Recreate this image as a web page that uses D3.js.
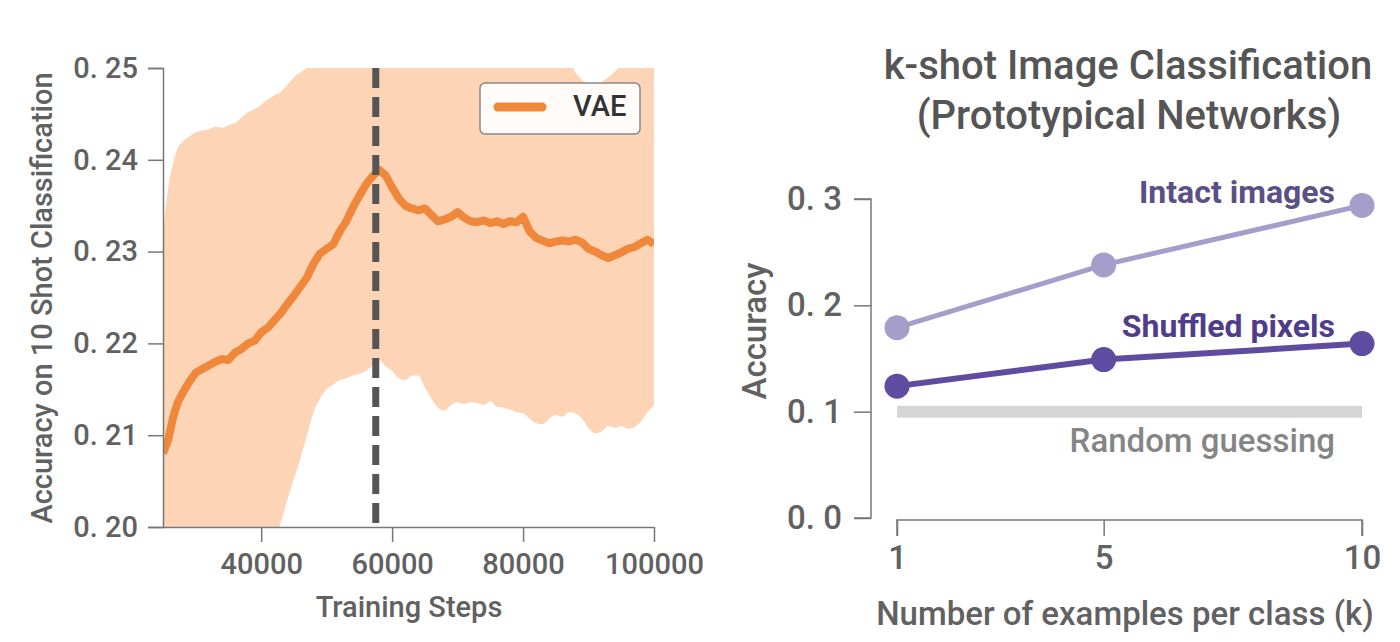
<!DOCTYPE html>
<html>
<head>
<meta charset="utf-8">
<script src="https://cdn.jsdelivr.net/npm/d3@7/dist/d3.min.js"></script>
<style>
  body { margin: 0; background: #fff; }
  svg text { font-family: Roboto, "Noto Sans", sans-serif; }
</style>
</head>
<body>
<div id="chart"></div>
<script>
// ---- left panel: VAE accuracy vs training steps ----
var steps = [25000, 25800, 26500, 27200, 28000, 29000, 30000, 31000, 32000, 33000,
  34000, 35000, 36000, 37000, 38000, 39000, 40000, 41000, 42000, 43000,
  44000, 45000, 46000, 47000, 48000, 49000, 50000, 51000, 52000, 53000,
  54000, 55000, 56000, 57000, 58000, 59000, 60000, 61000, 62000, 63000,
  64000, 65000, 66000, 67000, 68000, 69000, 70000, 71000, 72000, 73000,
  74000, 75000, 76000, 77000, 78000, 79000, 80000, 81000, 82000, 83000,
  84000, 85000, 86000, 87000, 88000, 89000, 90000, 91000, 92000, 93000,
  94000, 95000, 96000, 97000, 98000, 99000, 100000];

var vaeMean = [0.2080, 0.2095, 0.2118, 0.2135, 0.2146, 0.2158, 0.2168, 0.2172, 0.2176, 0.2180,
  0.2183, 0.2182, 0.2190, 0.2194, 0.2200, 0.2203, 0.2212, 0.2217, 0.2225, 0.2233,
  0.2243, 0.2252, 0.2262, 0.2272, 0.2287, 0.2298, 0.2303, 0.2308, 0.2322, 0.2333,
  0.2348, 0.2361, 0.2373, 0.2382, 0.2389, 0.2383, 0.2370, 0.2358, 0.2350, 0.2347,
  0.2345, 0.2347, 0.2340, 0.2333, 0.2335, 0.2338, 0.2343, 0.2337, 0.2333, 0.2332,
  0.2334, 0.2331, 0.2333, 0.2330, 0.2333, 0.2332, 0.2338, 0.2322, 0.2315, 0.2312,
  0.2309, 0.2311, 0.2312, 0.2311, 0.2313, 0.2310, 0.2303, 0.2300, 0.2296, 0.2293,
  0.2296, 0.2299, 0.2303, 0.2305, 0.2309, 0.2313, 0.2308];

var vaeUpper = [0.2320, 0.2370, 0.2395, 0.2412, 0.2420, 0.2425, 0.2430, 0.2432, 0.2433, 0.2436,
  0.2435, 0.2438, 0.2440, 0.2446, 0.2452, 0.2455, 0.2460, 0.2466, 0.2470, 0.2474,
  0.2482, 0.2490, 0.2495, 0.2500, 0.2505, 0.2515, 0.2520, 0.2520, 0.2520, 0.2520,
  0.2520, 0.2520, 0.2520, 0.2520, 0.2520, 0.2520, 0.2520, 0.2520, 0.2520, 0.2520,
  0.2520, 0.2520, 0.2520, 0.2520, 0.2520, 0.2520, 0.2520, 0.2520, 0.2520, 0.2520,
  0.2520, 0.2520, 0.2520, 0.2520, 0.2520, 0.2520, 0.2520, 0.2520, 0.2520, 0.2520,
  0.2520, 0.2520, 0.2515, 0.2508, 0.2495, 0.2487, 0.2482, 0.2480, 0.2484, 0.2490,
  0.2496, 0.2505, 0.2520, 0.2520, 0.2520, 0.2520, 0.2520];

var vaeLower = [0.1850, 0.1855, 0.1860, 0.1865, 0.1870, 0.1875, 0.1880, 0.1885, 0.1890, 0.1895,
  0.1900, 0.1905, 0.1910, 0.1920, 0.1930, 0.1940, 0.1955, 0.1970, 0.1985, 0.2005,
  0.2030, 0.2052, 0.2075, 0.2100, 0.2125, 0.2140, 0.2150, 0.2155, 0.2160, 0.2162,
  0.2165, 0.2167, 0.2170, 0.2176, 0.2182, 0.2175, 0.2170, 0.2162, 0.2160, 0.2165,
  0.2165, 0.2152, 0.2140, 0.2130, 0.2127, 0.2133, 0.2136, 0.2134, 0.2136, 0.2135,
  0.2133, 0.2137, 0.2131, 0.2130, 0.2128, 0.2125, 0.2124, 0.2118, 0.2113, 0.2112,
  0.2118, 0.2122, 0.2120, 0.2125, 0.2124, 0.2118, 0.2108, 0.2102, 0.2104, 0.2110,
  0.2108, 0.2110, 0.2107, 0.2109, 0.2115, 0.2125, 0.2132];

var bestStep = 57500;
var leftYTicks = [0.20, 0.21, 0.22, 0.23, 0.24, 0.25];
var leftXTicks = [40000, 60000, 80000, 100000];

// ---- right panel: k-shot classification ----
var shots = [1, 5, 10];
var intactAcc = [0.179, 0.238, 0.294];
var shuffledAcc = [0.124, 0.149, 0.164];
var randomGuess = 0.1;
var rightYTicks = [0.0, 0.1, 0.2, 0.3];

var svg = d3.select("#chart").append("svg").attr("width", 1400).attr("height", 642);

var axisGrey = "#777", textGrey = "#616161";

// ================= left =================
var x = d3.scaleLinear().domain([25000, 100000]).range([163, 654]);
var y = d3.scaleLinear().domain([0.20, 0.25]).range([527, 68]);

var rows = steps.map((s, i) => ({s: s, m: vaeMean[i], lo: vaeLower[i], hi: vaeUpper[i]}));

svg.append("clipPath").attr("id", "plotclip")
  .append("rect").attr("x", x(25000)).attr("y", y(0.25))
  .attr("width", x(100000) - x(25000)).attr("height", y(0.20) - y(0.25));

var plot = svg.append("g").attr("clip-path", "url(#plotclip)");

plot.append("path").datum(rows)
  .attr("fill", "#fdd5b6")
  .attr("d", d3.area().x(d => x(d.s)).y0(d => y(d.lo)).y1(d => y(d.hi)).curve(d3.curveMonotoneX));

plot.append("path").datum(rows)
  .attr("fill", "none")
  .attr("stroke", "#f0883c")
  .attr("stroke-width", 8)
  .attr("stroke-linejoin", "round")
  .attr("d", d3.line().x(d => x(d.s)).y(d => y(d.m)));

svg.append("line")
  .attr("x1", x(bestStep)).attr("x2", x(bestStep))
  .attr("y1", y(0.25)).attr("y2", y(0.20))
  .attr("stroke", "#555").attr("stroke-width", 7)
  .attr("stroke-dasharray", "20,9");

var gy = svg.append("g").attr("transform", "translate(" + x(25000) + ",0)")
  .call(d3.axisLeft(y).tickValues(leftYTicks).tickSize(15).tickPadding(10)
    .tickFormat(d => d3.format(".2f")(d).replace(".", ". ")));
var gx = svg.append("g").attr("transform", "translate(0," + y(0.20) + ")")
  .call(d3.axisBottom(x).tickValues(leftXTicks).tickSize(15).tickPadding(11).tickSizeOuter(0)
    .tickFormat(d3.format("d")));

[gx, gy].forEach(g => {
  g.select(".domain").attr("stroke", axisGrey).attr("stroke-width", 1.5);
  g.selectAll(".tick line").attr("stroke", axisGrey).attr("stroke-width", 1.5);
  g.selectAll(".tick text").attr("fill", textGrey).style("font-size", "29px").style("font-weight", 500);
});

svg.append("text")
  .attr("transform", "translate(52,298) rotate(-90)")
  .attr("text-anchor", "middle")
  .attr("fill", textGrey).style("font-size", "29px").style("font-weight", 500)
  .text("Accuracy on 10 Shot Classification");

svg.append("text")
  .attr("x", 409).attr("y", 617)
  .attr("text-anchor", "middle")
  .attr("fill", textGrey).style("font-size", "29px").style("font-weight", 500)
  .text("Training Steps");

// legend
var lg = svg.append("g");
lg.append("rect").attr("x", 480).attr("y", 83).attr("width", 160).attr("height", 51)
  .attr("rx", 5).attr("fill", "#fff").attr("fill-opacity", 0.9)
  .attr("stroke", "#888").attr("stroke-width", 1.5);
lg.append("line").attr("x1", 498).attr("x2", 542).attr("y1", 107).attr("y2", 107)
  .attr("stroke", "#f0883c").attr("stroke-width", 9).attr("stroke-linecap", "round");
lg.append("text").attr("x", 573).attr("y", 116)
  .attr("fill", "#333").style("font-size", "29px").style("font-weight", 500)
  .text("VAE");

// ================= right =================
var x2 = d3.scaleLinear().domain([1, 10]).range([897, 1362]);
var y2 = d3.scaleLinear().domain([0, 0.3]).range([518, 199]);

svg.append("text").attr("x", 1128).attr("y", 79).attr("text-anchor", "middle")
  .attr("fill", "#555").style("font-size", "40px").style("font-weight", 500)
  .text("k-shot Image Classification");
svg.append("text").attr("x", 1129).attr("y", 129).attr("text-anchor", "middle")
  .attr("fill", "#555").style("font-size", "40px").style("font-weight", 500)
  .text("(Prototypical Networks)");

var gy2 = svg.append("g").attr("transform", "translate(871,0)")
  .call(d3.axisLeft(y2).tickValues(rightYTicks).tickSize(17).tickPadding(12)
    .tickFormat(d => d3.format(".1f")(d).replace(".", ". ")));
var gx2 = svg.append("g").attr("transform", "translate(0,520)")
  .call(d3.axisBottom(x2).tickValues(shots).tickSize(16).tickPadding(10)
    .tickFormat(d3.format("d")));

[gx2, gy2].forEach(g => {
  g.select(".domain").attr("stroke", axisGrey).attr("stroke-width", 1.5);
  g.selectAll(".tick line").attr("stroke", axisGrey).attr("stroke-width", 1.5);
  g.selectAll(".tick text").attr("fill", textGrey).style("font-size", "33px").style("font-weight", 500);
});
gy2.select(".domain").attr("d", "M-17," + y2(0.3) + "H0V" + y2(0) + "H-17");
gx2.select(".domain").attr("d", "M" + x2(1) + ",16V0H" + x2(10) + "V16");

svg.append("text")
  .attr("transform", "translate(766,331) rotate(-90)")
  .attr("text-anchor", "middle")
  .attr("fill", textGrey).style("font-size", "33px").style("font-weight", 500)
  .text("Accuracy");

svg.append("text")
  .attr("x", 1125).attr("y", 625).attr("text-anchor", "middle")
  .attr("fill", textGrey).style("font-size", "33px").style("font-weight", 500)
  .text("Number of examples per class (k)");

// random guessing baseline
svg.append("line")
  .attr("x1", x2(1)).attr("x2", x2(10))
  .attr("y1", y2(randomGuess)).attr("y2", y2(randomGuess))
  .attr("stroke", "#d5d5d5").attr("stroke-width", 12);
svg.append("text").attr("x", 1335).attr("y", 452).attr("text-anchor", "end")
  .attr("fill", "#858585").style("font-size", "33px").style("font-weight", 500)
  .text("Random guessing");

var series = [
  {name: "Intact images", vals: intactAcc, color: "#a59dca", width: 5, label: "#5a4f86", ly: 203},
  {name: "Shuffled pixels", vals: shuffledAcc, color: "#5f4b9f", width: 6, label: "#4e3d8c", ly: 337}
];

series.forEach(s => {
  var pts = shots.map((k, i) => [k, s.vals[i]]);
  svg.append("path").datum(pts)
    .attr("fill", "none").attr("stroke", s.color).attr("stroke-width", s.width)
    .attr("d", d3.line().x(d => x2(d[0])).y(d => y2(d[1])));
  svg.append("g").selectAll("circle").data(pts).join("circle")
    .attr("cx", d => x2(d[0])).attr("cy", d => y2(d[1])).attr("r", 12.5)
    .attr("fill", s.color);
  svg.append("text").attr("x", 1335).attr("y", s.ly).attr("text-anchor", "end")
    .attr("fill", s.label).style("font-size", "32px").style("font-weight", 700)
    .text(s.name);
});
</script>
</body>
</html>
